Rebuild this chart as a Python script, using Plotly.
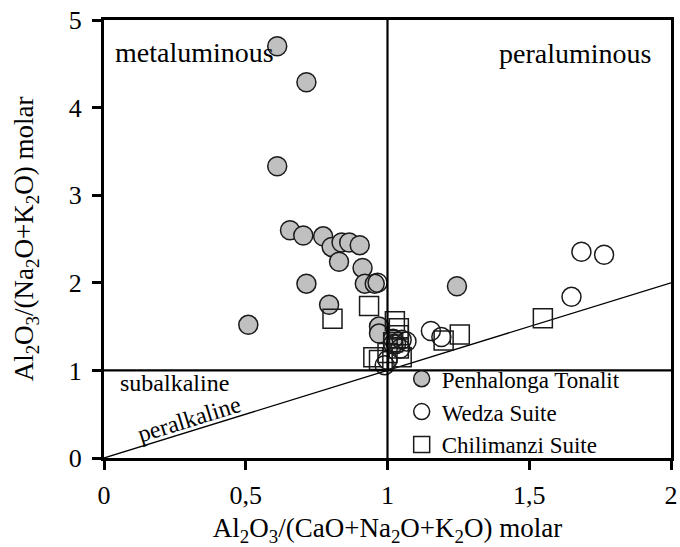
import plotly.graph_objects as go

# ---- data ----
pen_x = [0.611, 0.714, 0.611, 0.656, 0.703, 0.773, 0.803, 0.838, 0.865, 0.902, 0.829,
         0.912, 0.714, 0.920, 0.955, 0.794, 0.509, 1.245, 0.970, 0.970, 1.020]
pen_y = [4.70, 4.29, 3.33, 2.60, 2.54, 2.53, 2.41, 2.46, 2.46, 2.43, 2.24,
         2.17, 1.99, 1.99, 1.99, 1.75, 1.52, 1.96, 1.50, 1.42, 1.30]

wed_x = [0.965, 1.684, 1.764, 1.649, 1.153, 1.190, 1.050, 1.067, 1.030, 1.045, 0.990, 1.000, 1.020]
wed_y = [2.00, 2.355, 2.32, 1.84, 1.45, 1.38, 1.35, 1.33, 1.30, 1.25, 1.06, 1.12, 1.36]

chi_x = [0.935, 0.806, 1.026, 1.548, 1.255, 1.198, 1.040, 1.040, 1.020, 0.950, 0.970, 1.050, 1.040, 1.000]
chi_y = [1.735, 1.59, 1.56, 1.595, 1.41, 1.34, 1.48, 1.40, 1.32, 1.15, 1.12, 1.15, 1.25, 1.20]

x_ticks = [0, 0.5, 1, 1.5, 2]
x_tick_text = ["0", "0,5", "1", "1,5", "2"]
y_ticks = [0, 1, 2, 3, 4, 5]

# field boundaries
asi_boundary = 1.0      # A/CNK = 1
ank_boundary = 1.0      # A/NK = 1
diag_x = [0, 2]
diag_y = [0, 2]

FONT = "Liberation Serif"

fig = go.Figure()

fig.add_trace(go.Scatter(
    x=diag_x, y=diag_y, mode="lines", line=dict(color="black", width=1.3),
    showlegend=False, hoverinfo="skip"))

fig.add_trace(go.Scatter(
    x=pen_x, y=pen_y, mode="markers", name="Penhalonga Tonalit",
    marker=dict(symbol="circle", size=19, color="#c0c0c0",
                line=dict(color="#1a1a1a", width=1.5))))
fig.add_trace(go.Scatter(
    x=wed_x, y=wed_y, mode="markers", name="Wedza Suite",
    marker=dict(symbol="circle", size=19, color="rgba(0,0,0,0)",
                line=dict(color="#1a1a1a", width=1.5))))
fig.add_trace(go.Scatter(
    x=chi_x, y=chi_y, mode="markers", name="Chilimanzi Suite",
    marker=dict(symbol="square", size=19, color="rgba(0,0,0,0)",
                line=dict(color="#1a1a1a", width=1.5))))

# boundary lines
fig.add_shape(type="line", x0=asi_boundary, x1=asi_boundary, y0=0, y1=5,
              xref="x", yref="y", line=dict(color="black", width=2.2))
fig.add_shape(type="line", x0=0, x1=2, y0=ank_boundary, y1=ank_boundary,
              xref="x", yref="y", line=dict(color="black", width=2.2))

ann = [
    dict(text="metaluminous", x=0.032, y=4.63, xanchor="left", yanchor="middle", size=28),
    dict(text="peraluminous", x=1.935, y=4.62, xanchor="right", yanchor="middle", size=28),
    dict(text="subalkaline", x=0.05, y=0.855, xanchor="left", yanchor="middle", size=24),
]
for a in ann:
    fig.add_annotation(x=a["x"], y=a["y"], text=a["text"], showarrow=False,
                       xanchor=a["xanchor"], yanchor=a["yanchor"],
                       font=dict(family=FONT, size=a["size"], color="black"))
fig.add_annotation(x=0.303, y=0.44, text="peralkaline", showarrow=False,
                   textangle=-17.2, xanchor="center", yanchor="middle",
                   font=dict(family=FONT, size=24, color="black"))

fig.update_xaxes(
    range=[0, 2], tickvals=x_ticks, ticktext=x_tick_text, automargin=False,
    showgrid=False, zeroline=False, showline=True, linewidth=3, linecolor="black",
    mirror=True, ticks="outside", ticklen=9, tickwidth=3, tickcolor="black",
    tickfont=dict(family=FONT, size=26, color="black"), ticklabelstandoff=3,
    title=dict(text="Al<sub>2</sub>O<sub>3</sub>/(CaO+Na<sub>2</sub>O+K<sub>2</sub>O) molar",
               font=dict(family=FONT, size=27, color="black"), standoff=12),
)
fig.update_yaxes(
    range=[0, 5], tickvals=y_ticks, automargin=False,
    showgrid=False, zeroline=False, showline=True, linewidth=3, linecolor="black",
    mirror=True, ticks="outside", ticklen=9, tickwidth=3, tickcolor="black",
    tickfont=dict(family=FONT, size=26, color="black"), ticklabelstandoff=5,
    title=dict(text="Al<sub>2</sub>O<sub>3</sub>/(Na<sub>2</sub>O+K<sub>2</sub>O) molar",
               font=dict(family=FONT, size=27, color="black"), standoff=28),
)

fig.update_layout(
    width=680, height=547,
    margin=dict(l=104, r=9, t=20, b=89),
    paper_bgcolor="white", plot_bgcolor="white",
    font=dict(family=FONT, color="black"),
    showlegend=True,
    legend=dict(x=0.525, y=0.23, xanchor="left", yanchor="top",
                bgcolor="rgba(0,0,0,0)", borderwidth=0,
                font=dict(family=FONT, size=23, color="black"),
                tracegroupgap=0, itemsizing="trace"),
)

fig.write_html("out.html")
